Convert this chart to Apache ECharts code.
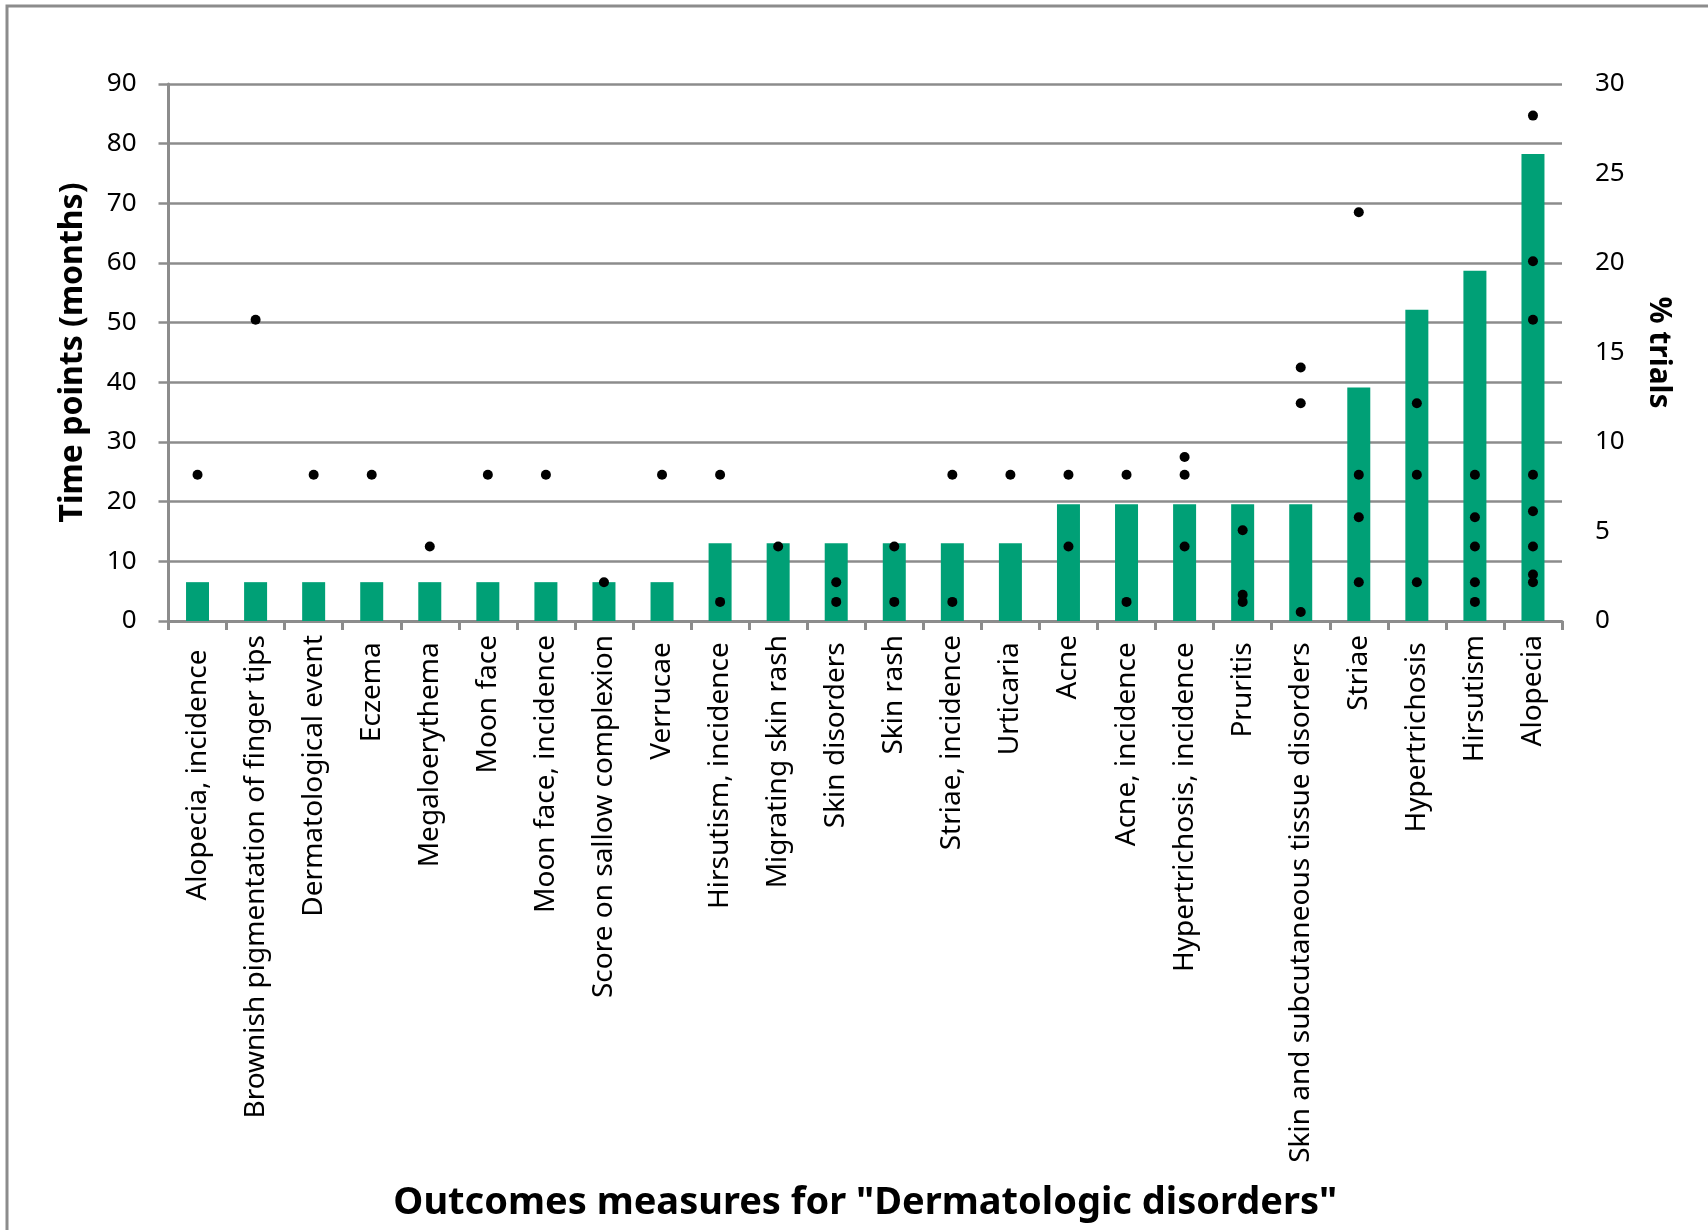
<!DOCTYPE html>
<html>
<head>
<meta charset="utf-8">
<script src="https://cdn.jsdelivr.net/npm/echarts@6/dist/echarts.min.js"></script>
<style>
html,body{margin:0;padding:0;background:#fff;}
#chart{width:1708px;height:1230px;}
</style>
</head>
<body>
<div id="chart"></div>
<script>
const categories = [
  "Alopecia, incidence  ",
  "Brownish pigmentation of finger tips",
  "Dermatological event",
  "Eczema ",
  "Megaloerythema ",
  "Moon face",
  "Moon face, incidence",
  "Score on sallow complexion",
  "Verrucae ",
  "Hirsutism, incidence ",
  "Migrating skin rash",
  "Skin disorders ",
  "Skin rash",
  "Striae, incidence",
  "Urticaria ",
  "Acne",
  "Acne, incidence ",
  "Hypertrichosis, incidence ",
  "Pruritis ",
  "Skin and subcutaneous tissue disorders ",
  "Striae",
  "Hypertrichosis ",
  "Hirsutism",
  "Alopecia"
];

// % of trials (right axis) – bars
const trialPercent = [
  2.17, 2.17, 2.17, 2.17, 2.17, 2.17, 2.17, 2.17, 2.17,
  4.35, 4.35, 4.35, 4.35, 4.35, 4.35,
  6.52, 6.52, 6.52, 6.52, 6.52,
  13.04, 17.39, 19.57, 26.09
];

// Time points in months (left axis) – dots, per category
const timePoints = [
  [24.5], [50.5], [24.5], [24.5], [12.5], [24.5], [24.5], [6.5], [24.5],
  [24.5, 3.2], [12.5], [6.5, 3.2], [12.5, 3.2], [24.5, 3.2], [24.5],
  [24.5, 12.5], [24.5, 3.2], [27.5, 24.5, 12.5], [15.2, 4.4, 3.2],
  [42.5, 36.5, 1.5], [68.5, 24.5, 17.4, 6.5], [36.5, 24.5, 6.5],
  [24.5, 17.4, 12.5, 6.5, 3.2], [84.7, 60.3, 50.5, 24.5, 18.4, 12.5, 7.8, 6.5]
];

const leftTicks = { min: 0, max: 90, interval: 10 };
const rightTicks = { min: 0, max: 30, interval: 5 };

const scatterData = [];
timePoints.forEach(function (vals, i) {
  vals.forEach(function (v) { scatterData.push([i, v]); });
});

const FONT = "Noto Sans";
const GRAY = "#8c8c8c";

const chart = echarts.init(document.getElementById('chart'), null, { renderer: 'canvas' });
chart.setOption({
  backgroundColor: '#ffffff',
  animation: false,
  graphic: [{
    type: 'rect',
    shape: { x: 7, y: 6, width: 1900, height: 1400 },
    style: { fill: 'none', stroke: GRAY, lineWidth: 3 },
    silent: true
  }],
  grid: { left: 168.5, right: 146, top: 84, bottom: 609, containLabel: false, outerBoundsMode: 'none' },
  xAxis: {
    type: 'category',
    data: categories,
    boundaryGap: true,
    name: 'Outcomes measures for "Dermatologic disorders"',
    nameLocation: 'middle',
    nameGap: 563,
    nameTextStyle: { fontFamily: FONT, fontSize: 38, fontWeight: 'bold', color: '#000' },
    axisLine: { show: true, lineStyle: { color: GRAY, width: 3 } },
    axisTick: { show: true, interval: 0, length: 9, lineStyle: { color: GRAY, width: 3 } },
    axisLabel: { interval: 0, rotate: 90, margin: 14, fontFamily: FONT, fontSize: 28, color: '#000' },
    splitLine: { show: false }
  },
  yAxis: [{
    type: 'value',
    min: leftTicks.min, max: leftTicks.max, interval: leftTicks.interval,
    position: 'left',
    name: 'Time points (months)',
    nameLocation: 'middle',
    nameRotate: 90,
    nameGap: 80,
    nameTextStyle: { fontFamily: FONT, fontSize: 32, fontWeight: 'bold', color: '#000' },
    axisLine: { show: true, lineStyle: { color: GRAY, width: 3 } },
    axisTick: { show: true, length: 10, lineStyle: { color: GRAY, width: 2.5 } },
    axisLabel: { margin: 32, fontFamily: FONT, fontSize: 26, color: '#000' },
    splitLine: { show: true, lineStyle: { color: GRAY, width: 2.5 } }
  }, {
    type: 'value',
    min: rightTicks.min, max: rightTicks.max, interval: rightTicks.interval,
    position: 'right',
    name: '% trials',
    nameLocation: 'middle',
    nameRotate: -90,
    nameGap: 82,
    nameTextStyle: { fontFamily: FONT, fontSize: 30, fontWeight: 'bold', color: '#000' },
    axisLine: { show: false },
    axisTick: { show: false },
    axisLabel: { margin: 33, fontFamily: FONT, fontSize: 26, color: '#000' },
    splitLine: { show: false }
  }],
  series: [{
    type: 'bar',
    yAxisIndex: 1,
    data: trialPercent,
    barWidth: 23,
    itemStyle: { color: '#00a076' }
  }, {
    type: 'scatter',
    yAxisIndex: 0,
    data: scatterData,
    symbol: 'circle',
    symbolSize: 10,
    itemStyle: { color: '#000', opacity: 1 },
    z: 5
  }]
});
</script>
</body>
</html>
